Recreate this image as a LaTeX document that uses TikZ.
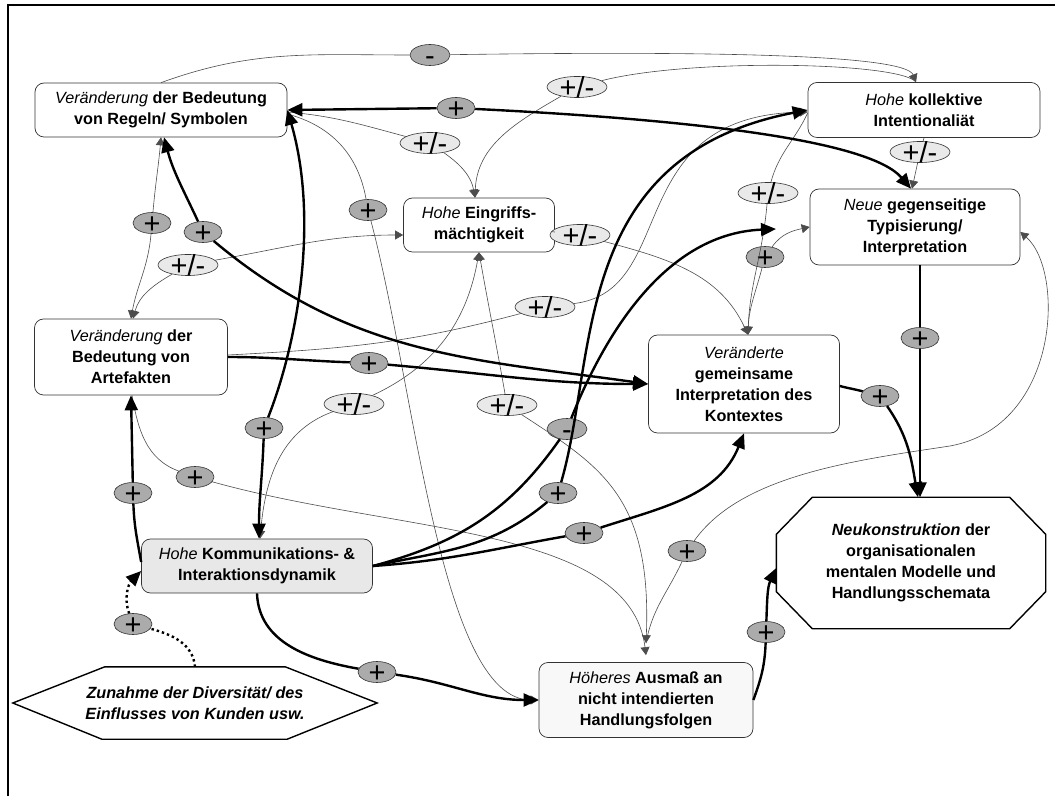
\documentclass[tikz,border=0pt]{standalone}
\usepackage{fontspec}
\setmainfont{Liberation Sans}
\usetikzlibrary{arrows.meta,shapes.geometric}

\definecolor{signdark}{HTML}{ABABAB}
\definecolor{signlight}{HTML}{E9E9E9}
\definecolor{boxgray}{HTML}{E8E8E8}
\definecolor{boxlight}{HTML}{F8F8F8}

\newcommand{\itw}[1]{{\mdseries\itshape #1}}
\newcommand{\signtxt}[1]{\raisebox{-0.36em}[0pt][0pt]{\makebox[0pt]{#1}}}

\begin{document}
\begin{tikzpicture}[x=1pt, y=1pt,
        box/.style={rectangle, rounded corners=9pt, draw=black!80, line width=0.7pt, fill=white, align=center, inner sep=1pt, font=\fontsize{16.2}{21}\selectfont\bfseries},
        bigbox/.style={rectangle, inner sep=0pt, align=center, font=\fontsize{16.2}{21}\selectfont\bfseries},
        plus/.style={ellipse, draw=black!80, line width=0.6pt, fill=signdark, minimum width=38pt, minimum height=21pt, inner sep=0pt, font=\fontsize{29}{29}\selectfont},
        pm/.style={plus, fill=signlight, minimum width=60pt},
        minus/.style={plus, minimum width=40pt},
        thinln/.style={line width=0.6pt, draw=black!70, >={Triangle[length=8pt,width=9pt]}},
        thickln/.style={line width=2.4pt, >={Triangle[length=15pt,width=13pt]}}
    ]
        \useasboundingbox (0,0) rectangle (1055,796);
        \draw[line width=2pt] (1055,791) -- (8,791) -- (8,0);

        % Boxes
        \node[box, minimum width=252pt, minimum height=54pt] (regeln) at (161,686) {\itw{Veränderung} der Bedeutung\\von Regeln/ Symbolen};
        \node[box, minimum width=151pt, minimum height=54pt] (eingriff) at (479,571) {\itw{Hohe} Eingriffs-\\mächtigkeit};
        \node[box, minimum width=232pt, minimum height=55pt] (kollektiv) at (924,686) {\itw{Hohe} kollektive\\Intentionaliät};
        \node[box, minimum width=210pt, minimum height=76pt] (typis) at (915,569) {\itw{Neue} gegenseitige\\Typisierung/\\Interpretation};
        \node[box, minimum width=193pt, minimum height=76pt] (artef) at (131,439) {\itw{Veränderung} der\\Bedeutung von\\Artefakten};
        \node[box, minimum width=191pt, minimum height=98pt] (kontext) at (744,412) {\itw{Veränderte}\\gemeinsame\\Interpretation des\\Kontextes};
        \node[box, fill=boxgray, minimum width=231pt, minimum height=54pt] (dynamik) at (257,230) {\itw{Hohe} Kommunikations- \&\\Interaktionsdynamik};
        \node[box, fill=boxlight, minimum width=214pt, minimum height=75pt] (folgen) at (646,96) {\itw{Höheres} Ausmaß an\\nicht intendierten\\Handlungsfolgen};

        % Octagon and hexagon
        \node[bigbox, minimum width=269pt, minimum height=131pt] (neu) at (911,233) {\textit{Neukonstruktion} der\\organisationalen\\mentalen Modelle und\\Handlungsschemata};
        \draw[line width=1.4pt] ([xshift=36]neu.north west) -- ([xshift=-36]neu.north east) -- ([yshift=-37]neu.north east)
            -- ([yshift=37]neu.south east) -- ([xshift=-36]neu.south east) -- ([xshift=36]neu.south west)
            -- ([yshift=37]neu.south west) -- ([yshift=-37]neu.north west) -- cycle;
        \node[bigbox, font=\fontsize{16.2}{21}\selectfont\bfseries\itshape, minimum width=364pt, minimum height=72pt] (kunden) at (195,93) {Zunahme der Diversität/ des\\Einflusses von Kunden usw.};
        \draw[line width=1.4pt] (kunden.west) -- ([xshift=92]kunden.north west) -- ([xshift=-92]kunden.north east) -- (kunden.east)
            -- ([xshift=-90]kunden.south east) -- ([xshift=89]kunden.south west) -- cycle;

        % Signs
        \node[minus] (mRK) at (430,741) {\signtxt{-}};
        \node[plus] (pRT) at (456,688) {\signtxt{+}};
        \node[pm] (pmKE) at (577,709) {\signtxt{+/-}};
        \node[pm] (pmRE) at (430,653) {\signtxt{+/-}};
        \node[plus] (pRH) at (368,586) {\signtxt{+}};
        \node[plus] (pRA) at (152,573) {\signtxt{+}};
        \node[plus] (pRV) at (203,564) {\signtxt{+}};
        \node[pm] (pmAE) at (188,531) {\signtxt{+/-}};
        \node[pm] (pmEV) at (580,561) {\signtxt{+/-}};
        \node[pm] (pmKV) at (768,603) {\signtxt{+/-}};
        \node[plus] (pTV) at (765,539) {\signtxt{+}};
        \node[pm] (pmKT) at (920,644) {\signtxt{+/-}};
        \node[pm] (pmAK) at (545,489) {\signtxt{+/-}};
        \node[plus] (pAV) at (369,433) {\signtxt{+}};
        \node[pm] (pmED) at (354,392) {\signtxt{+/-}};
        \node[pm] (pmEH) at (507,391) {\signtxt{+/-}};
        \node[minus] (mDT) at (567,367) {\signtxt{-}};
        \node[plus] (pRD) at (264,368) {\signtxt{+}};
        \node[plus] (pAH) at (195,319) {\signtxt{+}};
        \node[plus] (pDA) at (133,303) {\signtxt{+}};
        \node[plus] (pDK) at (558,303) {\signtxt{+}};
        \node[plus] (pDV) at (584,263) {\signtxt{+}};
        \node[plus] (pHT) at (687,245) {\signtxt{+}};
        \node[plus] (pZD) at (133,172) {\signtxt{+}};
        \node[plus] (pDH) at (377,124) {\signtxt{+}};
        \node[plus] (pHN) at (766,164) {\signtxt{+}};
        \node[plus] (pTN) at (920,458) {\signtxt{+}};
        \node[plus] (pVN) at (880,400) {\signtxt{+}};
        \coordinate (typin) at (776,567);

        % Thin links
        \draw[thinln,->] (regeln.north) to[out=20,in=180] (mRK) .. controls (700,745) and (905,742) .. ([xshift=-8]kollektiv.north);
        \draw[thinln,->] ([xshift=-8]kollektiv.north) .. controls (900,734) and (690,738) .. (pmKE) to[out=-150,in=88] ([xshift=-4]eingriff.north);
        \draw[thinln,->] ([yshift=-2]regeln.east) to[out=-5,in=165] (pmRE) to[out=-35,in=100] ([xshift=-4]eingriff.north);
        \draw[thinln,->] ([yshift=-4]regeln.east) to[out=-15,in=100] (pRH) .. controls (415,410) and (440,96) .. (folgen.west);
        \draw[thinln,<-] (regeln.south) to[out=-95,in=85] (pRA);
        \draw[thinln,->] (pRA) to[out=-95,in=80] (artef.north);
        \draw[thinln,<-] ([xshift=2]artef.north) to[out=75,in=-150] (pmAE);
        \draw[thinln,->] (pmAE) to[out=10,in=180] ([yshift=-10]eingriff.west);
        \draw[thinln,->] ([yshift=-7]eingriff.east) -- (pmEV) to[out=-15,in=115] ([xshift=4]kontext.north);
        \draw[thinln,->] ([yshift=-3]kollektiv.west) to[out=-115,in=75] (pmKV) to[out=-95,in=88] ([xshift=4]kontext.north);
        \draw[thinln,<-] ([xshift=4]kontext.north) to[out=88,in=-105] (pTV);
        \draw[thinln,->] (pTV) to[out=55,in=192] (typis.west);
        \draw[thinln,->] (kollektiv.south) -- (pmKT) -- ([xshift=-3]typis.north);
        \draw[thinln,->] ([yshift=2]artef.east) to[out=3,in=-165] (pmAK) .. controls (680,505) and (620,680) .. ([yshift=-2]kollektiv.west);
        \draw[thinln,<-] (eingriff.south) to[out=-100,in=25] (pmED);
        \draw[thinln,->] (pmED) to[out=-160,in=85] ([xshift=3]dynamik.north);
        \draw[thinln,<-] (eingriff.south) to[out=-80,in=100] (pmEH);
        \draw[thinln,->] (pmEH) .. controls (600,330) and (652,300) .. ([yshift=19]folgen.north);
        \draw[thinln,->] ([xshift=1]artef.south) to[out=-80,in=160] (pAH) .. controls (400,262) and (630,270) .. ([yshift=7]folgen.north);
        \draw[thinln,->] ([yshift=19]folgen.north) to[out=80,in=-115] (pHT) .. controls (740,320) and (850,335) .. (950,350) .. controls (1060,370) and (1065,525) .. ([yshift=-5]typis.east);

        % Thick links
        \draw[thickln,<-] (regeln.east) -- (pRT);
        \draw[thickln,->] (pRT) .. controls (700,676) and (870,655) .. ([xshift=-4]typis.north);
        \draw[thickln,<-] ([xshift=3]regeln.south) to[out=-75,in=115] (pRV);
        \draw[thickln,->] (pRV) to[out=-40,in=172] (kontext.west);
        \draw[thickln,<-] (regeln.east) .. controls (318,580) and (300,460) .. (pRD);
        \draw[thickln,->] (pRD) to[out=-92,in=90] ([xshift=2]dynamik.north);
        \draw[thickln,->] (artef.east) to[out=0,in=178] (pAV) to[out=-5,in=180] (kontext.west);
        \draw[thickln,->] (dynamik.east) to[out=12,in=-140] (pDK) .. controls (598,440) and (570,640) .. (kollektiv.west);
        \draw[thickln,->] (dynamik.east) to[out=15,in=-125] (mDT) .. controls (600,450) and (660,562) .. (typin);
        \draw[thickln,->] (dynamik.east) to[out=4,in=-170] (pDV) to[out=18,in=-112] (kontext.south);
        \draw[thickln,->] ([yshift=4]dynamik.west) to[out=100,in=-88] (pDA) -- (artef.south);
        \draw[thickln,->] (dynamik.south) to[out=-88,in=170] (pDH) to[out=-8,in=180] (folgen.west);
        \draw[thickln,->,dash pattern=on 2.4pt off 3pt] (kunden.north) to[out=95,in=-15] (pZD) to[out=110,in=-135] ([yshift=-5]dynamik.west);
        \draw[thickln,->] ([xshift=5]typis.south) -- (pTN) -- ([xshift=9]neu.north);
        \draw[thickln,->] ([yshift=-2]kontext.east) to[out=-15,in=165] (pVN) to[out=-55,in=100] ([xshift=7]neu.north);
        \draw[thickln,->] (folgen.east) to[out=70,in=-92] (pHN) to[out=88,in=-115] ([yshift=-5]neu.west);
    \end{tikzpicture}
\end{document}
